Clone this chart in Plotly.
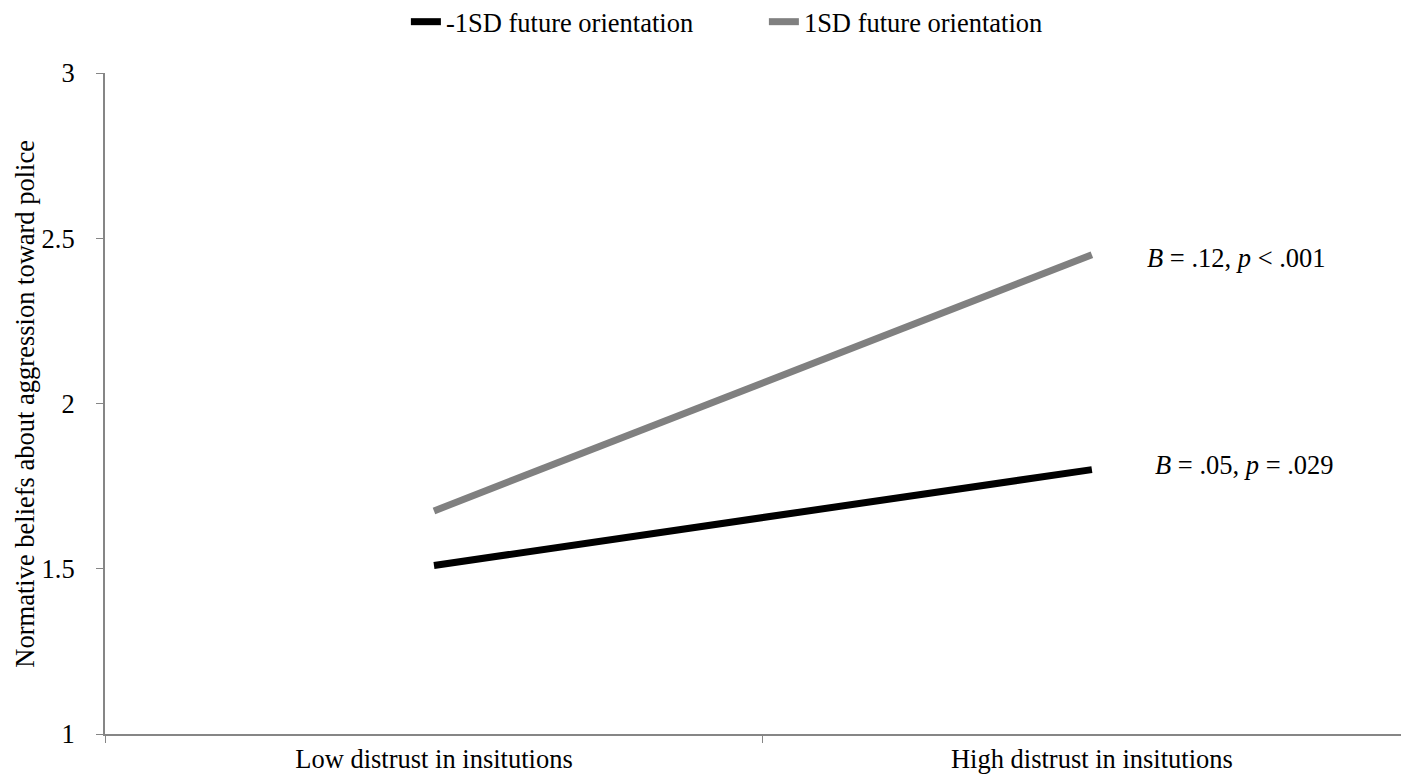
import plotly.graph_objects as go

categories = ["Low distrust in insitutions", "High distrust in insitutions"]
low_fo = [1.51, 1.80]
high_fo = [1.675, 2.45]
series_names = ["-1SD future orientation", "1SD future orientation"]
y_ticks = [1, 1.5, 2, 2.5, 3]
y_ticklabels = ["1", "1.5", "2", "2.5", "3"]
annot_texts = ["<i>B</i> = .12, <i>p</i> < .001", "<i>B</i> = .05, <i>p</i> = .029"]
annot_y = [2.440, 1.814]
y_title = "Normative beliefs about aggression toward police"

FONT = "Liberation Serif, Times New Roman, serif"
FS = 26.5

fig = go.Figure()
fig.add_trace(go.Scatter(x=categories, y=low_fo, mode="lines", name=series_names[0],
                         line=dict(color="#000000", width=7)))
fig.add_trace(go.Scatter(x=categories, y=high_fo, mode="lines", name=series_names[1],
                         line=dict(color="#808080", width=7)))

fig.add_annotation(text=annot_texts[0], xref="paper", yref="y", x=0.7975, y=annot_y[0],
                   xanchor="left", yanchor="middle", showarrow=False,
                   font=dict(family=FONT, size=FS, color="black"))
fig.add_annotation(text=annot_texts[1], xref="paper", yref="y", x=0.8037, y=annot_y[1],
                   xanchor="left", yanchor="middle", showarrow=False,
                   font=dict(family=FONT, size=FS, color="black"))
fig.add_annotation(text=y_title, xref="paper", yref="y",
                   x=-0.062, y=2.0, textangle=-90, xanchor="center", yanchor="middle",
                   showarrow=False, font=dict(family=FONT, size=FS, color="black"))

fig.update_layout(
    width=1401, height=775,
    margin=dict(l=97, r=0, t=65, b=49),
    paper_bgcolor="white", plot_bgcolor="white",
    font=dict(family=FONT, size=FS, color="black"),
    showlegend=True,
    legend=dict(orientation="h", x=0.284, xref="container", xanchor="left",
                y=0.982, yref="container", yanchor="middle",
                font=dict(family=FONT, size=FS, color="black"),
                itemwidth=30, entrywidth=313, tracegroupgap=0),
    xaxis=dict(type="category", range=[-0.5, 1.482], tickson="boundaries",
               showline=True, linecolor="#868686", linewidth=2, ticks="outside",
               ticklen=7, tickcolor="#868686", tickwidth=1, showgrid=False, zeroline=False,
               tickfont=dict(family=FONT, size=FS, color="black")),
    yaxis=dict(range=[1, 3], tickvals=y_ticks, ticktext=y_ticklabels,
               showline=True, linecolor="#868686", linewidth=2, ticks="outside",
               ticklen=7, tickcolor="#868686", tickwidth=1, showgrid=False, zeroline=False,
               tickfont=dict(family=FONT, size=FS, color="black"), ticklabelstandoff=16),
)

fig.write_html("out.html")
